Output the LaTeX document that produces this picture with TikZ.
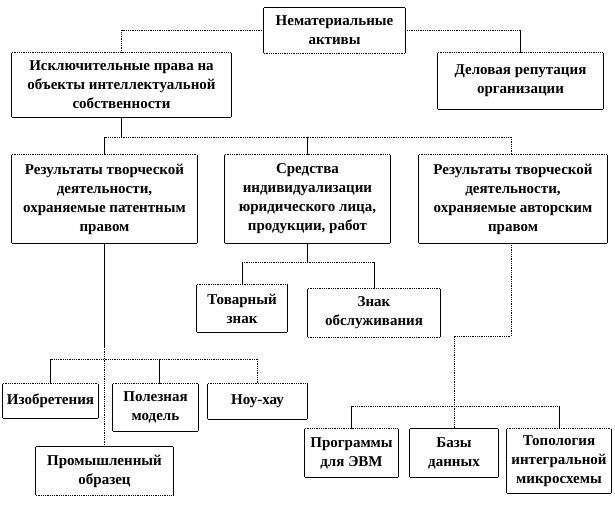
\documentclass[tikz,border=0pt]{standalone}
\usepackage{fontspec}
\setmainfont{Liberation Serif}
\newcommand\frm[3]{%
  \draw[#2] (#1.north west) -- (#1.north east);
  \draw[#3] (#1.south west) -- (#1.south east);
  \draw[sl] (#1.north west) -- (#1.south west) (#1.north east) -- (#1.south east);}
\begin{document}
\begin{tikzpicture}[x=1pt,y=-1pt,
  bx/.style={inner sep=0pt, align=center, font=\bfseries\fontsize{15}{19}\selectfont},
  sl/.style={line width=0.8pt, black},
  dl/.style={line width=0.9pt, dash pattern=on 0.9pt off 0.9pt, black},
  thk/.style={line width=1.6pt, black}]
\useasboundingbox (0,0) rectangle (615,516);
\fill[white] (0,0) rectangle (615,516);

% nodes
\node[bx,minimum width=141pt,minimum height=45pt] (na) at (334.5,30.5) {Нематериальные\\активы};
\node[bx,minimum width=219pt,minimum height=64pt] (ip) at (121.5,85) {Исключительные права на\\объекты интеллектуальной\\собственности};
\node[bx,minimum width=165pt,minimum height=56pt] (dr) at (520.5,81) {Деловая репутация\\организации};
\node[bx,minimum width=185pt,minimum height=88pt] (res1) at (104.5,199) {Результаты творческой\\деятельности,\\охраняемые патентным\\правом};
\node[bx,minimum width=165pt,minimum height=88pt] (sred) at (307.5,199) {Средства\\индивидуализации\\юридического лица,\\продукции, работ};
\node[bx,minimum width=188pt,minimum height=88pt] (res2) at (513,199) {Результаты творческой\\деятельности,\\охраняемые авторским\\правом};
\node[bx,minimum width=90pt,minimum height=47pt] (tov) at (242,308.5) {Товарный\\знак};
\node[bx,minimum width=132pt,minimum height=48pt] (znak) at (374,313) {Знак\\обслуживания};
\node[bx,minimum width=95pt,minimum height=34pt] (izob) at (50.5,401) {Изобретения};
\node[bx,minimum width=85pt,minimum height=47pt] (polez) at (155.5,407.5) {Полезная\\модель};
\node[bx,minimum width=99pt,minimum height=35pt] (nou) at (257.5,401.5) {Ноу-хау};
\node[bx,minimum width=137pt,minimum height=48pt] (prom) at (104.5,471) {Промышленный\\образец};
\node[bx,minimum width=93pt,minimum height=48pt] (prog) at (351.5,453) {Программы\\для ЭВМ};
\node[bx,minimum width=88pt,minimum height=48pt] (bazy) at (454,453) {Базы\\данных};
\node[bx,minimum width=104pt,minimum height=64pt] (topo) at (559,461) {Топология\\интегральной\\микросхемы};

% frames
\frm{na}{sl}{dl}
\frm{ip}{dl}{sl}
\frm{dr}{dl}{sl}
\frm{res1}{dl}{sl}
\frm{sred}{dl}{sl}
\frm{res2}{dl}{sl}
\frm{tov}{dl}{sl}
\frm{znak}{dl}{dl}
\frm{izob}{dl}{sl}
\frm{polez}{dl}{sl}
\frm{nou}{dl}{sl}
\frm{prom}{sl}{dl}
\frm{prog}{dl}{sl}
\frm{bazy}{sl}{sl}
\frm{topo}{dl}{sl}

% connectors: top level
\draw[dl] (na.west) -| (ip.north);
\draw[dl] (na.east) -- (na.east -| dr.north);
\draw[sl] (na.east -| dr.north) -- (dr.north);

% second level
\coordinate (j1) at (121.5,137);
\draw[thk] (ip.south) -- (j1);
\draw[dl] (res1.north |- j1) -- ([xshift=-2pt]res2.north |- j1);
\draw[sl] (res1.north |- j1) -- (res1.north);
\draw[sl] (sred.north |- j1) -- (sred.north);
\draw[dl] ([xshift=-2pt]res2.north |- j1) -- ([xshift=-2pt]res2.north);

% means of individualisation
\coordinate (j2) at (307.5,262);
\draw[sl] (sred.south) -- (j2);
\draw[dl] (tov.north |- j2) -- (znak.north |- j2);
\draw[sl] (tov.north |- j2) -- (tov.north);
\draw[sl] (znak.north |- j2) -- (znak.north);

% patent law
\coordinate (j3) at (104.5,347);
\coordinate (j4) at (104.5,359);
\draw[sl] (res1.south) -- (j3);
\draw[dl] (j3) -- (prom.north);
\draw[dl] (izob.north |- j4) -- (nou.north |- j4);
\draw[sl] (izob.north |- j4) -- (izob.north);
\draw[sl] ([xshift=3.5pt]polez.north |- j4) -- ([xshift=3.5pt]polez.north);
\draw[dl] (nou.north |- j4) -- (nou.north);

% copyright
\coordinate (j5) at (511,336);
\coordinate (j6) at (454,406);
\draw[dl] ([xshift=-2pt]res2.south) -- (j5) -| (bazy.north);
\draw[dl] (prog.north |- j6) -- (topo.north |- j6);
\draw[sl] (prog.north |- j6) -- (prog.north);
\draw[sl] (topo.north |- j6) -- (topo.north);
\end{tikzpicture}
\end{document}
